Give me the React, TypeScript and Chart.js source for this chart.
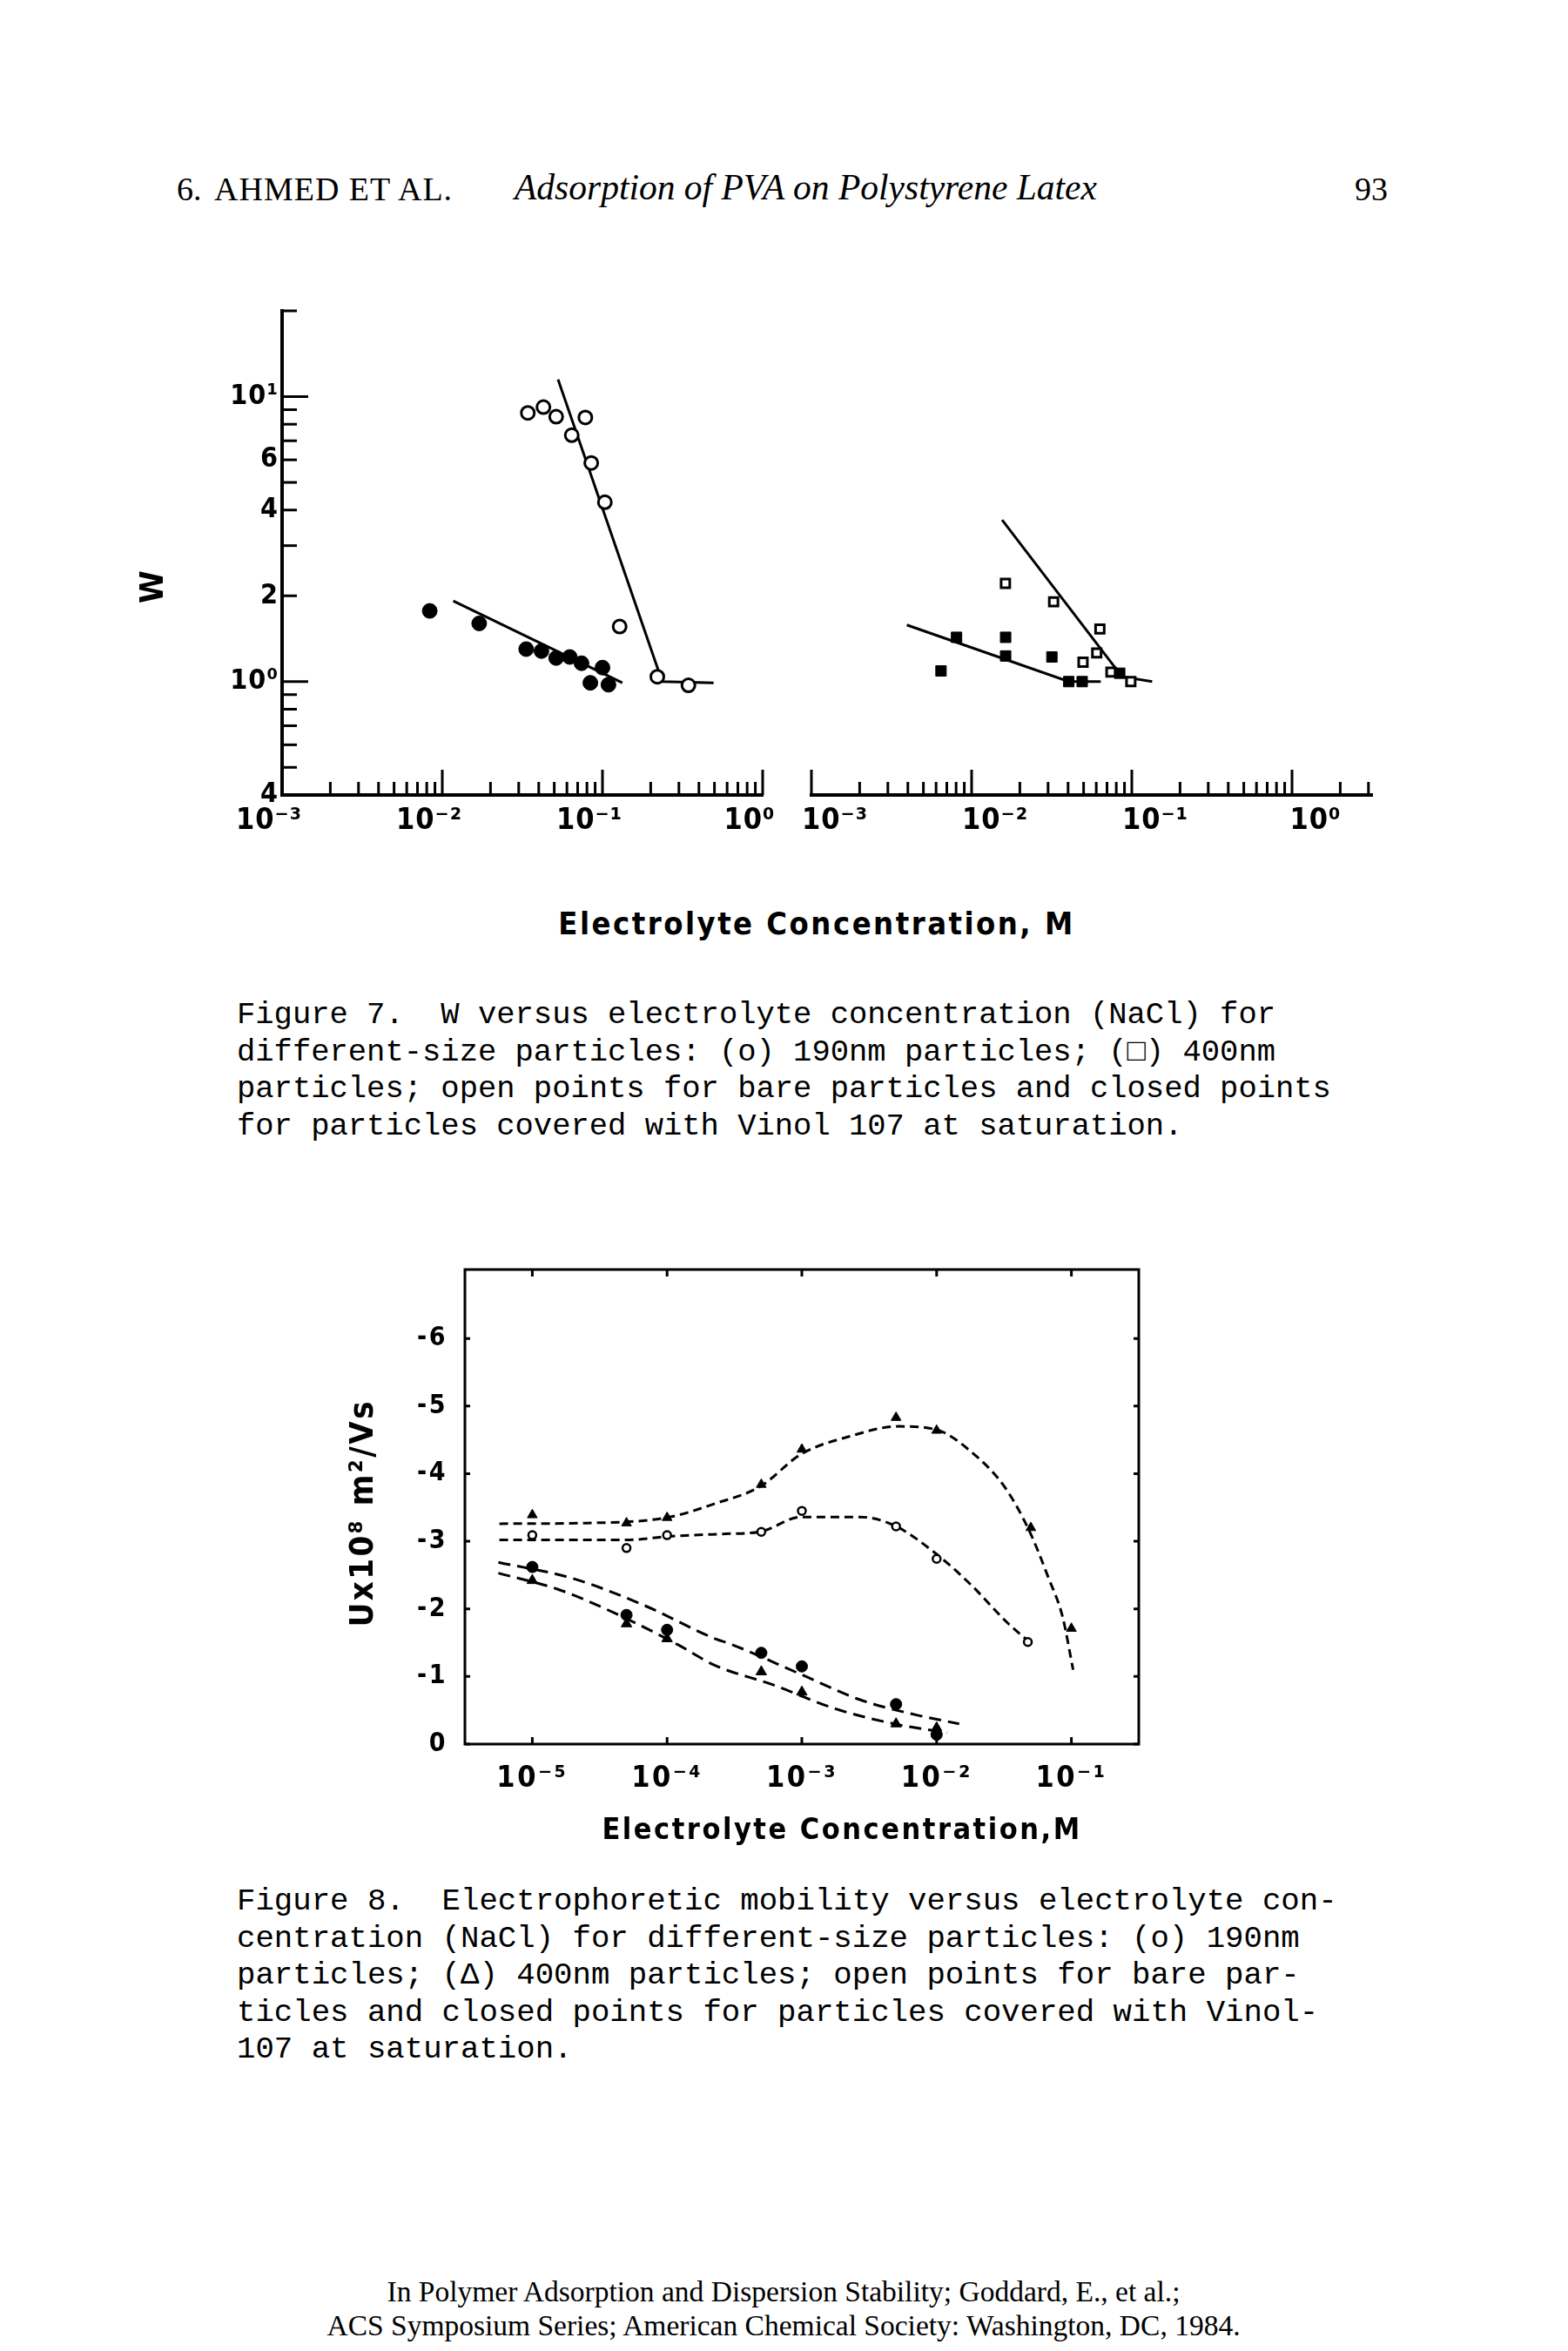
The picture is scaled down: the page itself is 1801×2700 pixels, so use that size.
import React, { useEffect, useRef } from 'react';
import { Chart, registerables } from 'chart.js';

Chart.register(...registerables);

const COND = "'DejaVu Sans Condensed', 'Liberation Sans Narrow', 'DejaVu Sans', sans-serif";

// ---------------- Figure 7 : W versus electrolyte concentration ----------------
// left panel: 190 nm particles
const f7LeftClosedC = [0.00835, 0.017, 0.0334, 0.0416, 0.0514, 0.0625, 0.074, 0.1, 0.084, 0.109];
const f7LeftClosedW = [1.77, 1.6, 1.3, 1.28, 1.21, 1.22, 1.16, 1.12, 0.99, 0.975];
const f7LeftOpenC = [0.0342, 0.0428, 0.0514, 0.0782, 0.0643, 0.0851, 0.1035, 0.128, 0.22, 0.344];
const f7LeftOpenW = [8.77, 9.19, 8.5, 8.45, 7.32, 5.85, 4.26, 1.56, 1.04, 0.97];
const f7LeftClosedFitC = [0.0117, 0.133];
const f7LeftClosedFitW = [1.92, 0.99];
const f7LeftOpenFitC = [0.0528, 0.236, 0.494];
const f7LeftOpenFitW = [11.5, 1.0, 0.99];
// right panel: 400 nm particles
const f7RightOpenC = [0.01626, 0.0325, 0.0632, 0.0604, 0.0496, 0.0741, 0.0986];
const f7RightOpenW = [2.21, 1.905, 1.53, 1.26, 1.17, 1.08, 1.0];
const f7RightClosedC = [0.00644, 0.00805, 0.0163, 0.0163, 0.0317, 0.0404, 0.049, 0.084];
const f7RightClosedW = [1.09, 1.43, 1.43, 1.23, 1.22, 1.0, 1.0, 1.07];
const f7RightClosedFitC = [0.00394, 0.0404, 0.064];
const f7RightClosedFitW = [1.58, 1.0, 1.0];
const f7RightOpenFitC = [0.0155, 0.0869, 0.134];
const f7RightOpenFitW = [3.69, 1.04, 1.0];

// figure 7 axes
const f7Decades = [1e-3, 1e-2, 1e-1];
const f7Mantissas = [1, 2, 3, 4, 5, 6, 7, 8, 9];
const f7LeftXTicks = [...f7Decades.flatMap((d) => f7Mantissas.map((m) => +(m * d).toPrecision(3))), 1];
const f7RightXTicks = [...f7LeftXTicks, 2, 3];
const f7XTickValues = [1e-3, 1e-2, 1e-1, 1];
const f7XTickLabels = ['10⁻³', '10⁻²', '10⁻¹', '10⁰'];
const f7YTicks = [0.4, 0.5, 0.6, 0.7, 0.8, 0.9, 1, 2, 3, 4, 5, 6, 7, 8, 9, 10, 20];
const f7YTickValues = [0.4, 1, 2, 4, 6, 10];
const f7YTickLabels = ['4', '10⁰', '2', '4', '6', '10¹'];

// ---------------- Figure 8 : electrophoretic mobility ----------------
const f8BareTriC = [1e-5, 5e-5, 1e-4, 5e-4, 1e-3, 5e-3, 1e-2, 5e-2, 1e-1];
const f8BareTriU = [-3.39, -3.27, -3.35, -3.84, -4.36, -4.83, -4.64, -3.2, -1.71];
const f8BareCircC = [1e-5, 5e-5, 1e-4, 5e-4, 1e-3, 5e-3, 1e-2, 4.75e-2];
const f8BareCircU = [-3.09, -2.9, -3.09, -3.14, -3.45, -3.22, -2.74, -1.51];
const f8CovCircC = [1e-5, 5e-5, 1e-4, 5e-4, 1e-3, 5e-3, 1e-2];
const f8CovCircU = [-2.62, -1.91, -1.69, -1.35, -1.15, -0.59, -0.14];
const f8CovTriC = [1e-5, 5e-5, 1e-4, 5e-4, 1e-3, 5e-3, 1e-2];
const f8CovTriU = [-2.42, -1.78, -1.56, -1.07, -0.77, -0.3, -0.24];

const f8BareTriCurveC = [5.7e-6, 2.5e-5, 9.9e-5, 2.29e-4, 4.9e-4, 9.9e-4, 2.24e-3, 5.2e-3, 1e-2, 1.79e-2, 3.18e-2, 4.83e-2, 6.79e-2, 8.61e-2, 0.103];
const f8BareTriCurveU = [-3.26, -3.27, -3.35, -3.56, -3.81, -4.29, -4.55, -4.7, -4.65, -4.33, -3.81, -3.17, -2.45, -1.88, -1.1];
const f8BareCircCurveC = [5.7e-6, 5e-5, 1e-4, 2.7e-4, 4.9e-4, 9.9e-4, 2.7e-3, 4.9e-3, 9.7e-3, 1.79e-2, 3.33e-2, 4.62e-2];
const f8BareCircCurveU = [-3.02, -3.02, -3.07, -3.11, -3.14, -3.36, -3.36, -3.23, -2.83, -2.36, -1.8, -1.55];
const f8CovCircCurveC = [5.6e-6, 2.0e-5, 6.8e-5, 2.33e-4, 2.87e-4, 9.9e-4, 2.67e-3, 7.1e-3, 1.47e-2];
const f8CovCircCurveU = [-2.69, -2.45, -2.05, -1.55, -1.49, -1.03, -0.66, -0.43, -0.3];
const f8CovTriCurveC = [5.6e-6, 1.55e-5, 4.17e-5, 1.23e-4, 2.23e-4, 6.04e-4, 1.79e-3, 4.83e-3, 1.2e-2];
const f8CovTriCurveU = [-2.53, -2.29, -1.93, -1.46, -1.17, -0.88, -0.52, -0.3, -0.17];

const f8XTicks = [1e-5, 1e-4, 1e-3, 1e-2, 1e-1];
const f8XTickLabels = ['10⁻⁵', '10⁻⁴', '10⁻³', '10⁻²', '10⁻¹'];
const f8YTicks = [-6, -5, -4, -3, -2, -1, 0];
const f8YTickLabels = ['-6', '-5', '-4', '-3', '-2', '-1', '0'];

// ---------------- texts ----------------
const fig7Caption = [
  'Figure 7.  W versus electrolyte concentration (NaCl) for',
  'different-size particles: (o) 190nm particles; (□) 400nm',
  'particles; open points for bare particles and closed points',
  'for particles covered with Vinol 107 at saturation.',
];
const fig8Caption = [
  'Figure 8.  Electrophoretic mobility versus electrolyte con-',
  'centration (NaCl) for different-size particles: (o) 190nm',
  'particles; (Δ) 400nm particles; open points for bare par-',
  'ticles and closed points for particles covered with Vinol-',
  '107 at saturation.',
];
const footer = [
  'In Polymer Adsorption and Dispersion Stability; Goddard, E., et al.;',
  'ACS Symposium Series; American Chemical Society: Washington, DC, 1984.',
];

// ---------------- helpers ----------------
const pts = (xs: number[], ys: number[]) => xs.map((x, i) => ({ x, y: ys[i] }));
const near = (a: number, b: number) => Math.abs(a - b) <= Math.abs(b) * 1e-6 + 1e-12;
const labelFrom = (values: number[], labels: string[]) => (v: any) => {
  const i = values.findIndex((t) => near(Number(v), t));
  return i >= 0 ? labels[i] : '';
};

const inwardTicks = {
  id: 'inwardTicks',
  beforeDraw(chart: any, _args: any, opts: any) {
    (chart.ctx as any).letterSpacing = (opts.letterSpacing || 0) + 'px';
  },
  afterDatasetsDraw(chart: any, _args: any, opts: any) {
    const { ctx, chartArea: a } = chart;
    ctx.save();
    ctx.strokeStyle = '#000';
    ctx.lineWidth = opts.lineWidth || 3;
    (['x', 'y'] as const).forEach((id) => {
      const scale = chart.scales[id];
      const o = opts[id];
      if (!scale || !o) return;
      scale.ticks.forEach((t: any) => {
        const v = t.value;
        const major = o.majorValues
          ? o.majorValues.some((m: number) => near(v, m))
          : Math.abs(Math.log10(v) - Math.round(Math.log10(v))) < 1e-6;
        const len = major ? o.major : o.minor;
        const p = scale.getPixelForValue(v);
        ctx.beginPath();
        o.sides.forEach((s: string) => {
          if (s === 'bottom') { ctx.moveTo(p, a.bottom); ctx.lineTo(p, a.bottom - len); }
          if (s === 'top') { ctx.moveTo(p, a.top); ctx.lineTo(p, a.top + len); }
          if (s === 'left') { ctx.moveTo(a.left, p); ctx.lineTo(a.left + len, p); }
          if (s === 'right') { ctx.moveTo(a.right, p); ctx.lineTo(a.right - len, p); }
        });
        ctx.stroke();
      });
    });
    if (opts.frame) {
      ctx.lineWidth = opts.frame;
      ctx.strokeRect(a.left, a.top, a.right - a.left, a.bottom - a.top);
    }
    ctx.restore();
  },
  afterDraw(chart: any) {
    (chart.ctx as any).letterSpacing = '0px';
  },
};

const markers = (data: any, style: string, r: number, filled: boolean, bw = 3) => ({
  data,
  pointStyle: style,
  pointRadius: r,
  backgroundColor: filled ? '#000' : '#fff',
  borderColor: '#000',
  borderWidth: filled ? 1 : bw,
  showLine: false,
  order: 1,
});
const line = (data: any, dash: number[] = [], curved = false) => ({
  data,
  showLine: true,
  pointRadius: 0,
  borderColor: '#000',
  borderWidth: 3,
  borderDash: dash,
  fill: false,
  cubicInterpolationMode: curved ? 'monotone' : 'default',
  tension: 0,
  order: 2,
});

const baseOpts = {
  responsive: false,
  animation: false,
  devicePixelRatio: 1,
  events: [],
};

const f7XScale = (ticks: number[], max: number, labelOffset: number) => ({
  type: 'logarithmic',
  min: 1e-3,
  max,
  afterBuildTicks: (s: any) => { s.ticks = ticks.map((v) => ({ value: v })); },
  afterFit: (s: any) => { s.height = 90; },
  grid: { display: false, drawTicks: false },
  border: { display: true, width: 4, color: '#000' },
  ticks: {
    autoSkip: false, maxRotation: 0, minRotation: 0, padding: 10, labelOffset, color: '#000',
    font: { family: COND, size: 34, weight: 'bold' },
    callback: labelFrom(f7XTickValues, f7XTickLabels),
  },
});

const f7LeftConfig = () => ({
  type: 'scatter',
  data: {
    datasets: [
      markers(pts(f7LeftClosedC, f7LeftClosedW), 'circle', 8.5, true),
      markers(pts(f7LeftOpenC, f7LeftOpenW), 'circle', 7.5, false),
      line(pts(f7LeftClosedFitC, f7LeftClosedFitW)),
      line(pts(f7LeftOpenFitC, f7LeftOpenFitW)),
    ],
  },
  options: {
    ...baseOpts,
    layout: { padding: { left: 0, top: 27, right: 44, bottom: 0 } },
    plugins: {
      legend: { display: false },
      tooltip: { enabled: false },
      inwardTicks: {
        lineWidth: 3,
        letterSpacing: 1,
        x: { major: 29, minor: 15, sides: ['bottom'] },
        y: { major: 30, minor: 17, sides: ['left'], majorValues: [1, 10] },
      },
    },
    scales: {
      x: f7XScale(f7LeftXTicks, 1, -15),
      y: {
        type: 'logarithmic',
        min: 0.4,
        max: 20,
        afterBuildTicks: (s: any) => { s.ticks = f7YTicks.map((v) => ({ value: v })); },
        afterFit: (s: any) => { s.width = 174; },
        grid: { display: false, drawTicks: false },
        border: { display: true, width: 4, color: '#000' },
        title: { display: true, text: 'W      ', color: '#000', font: { family: COND, size: 38, weight: 'bold' }, padding: 4 },
        ticks: {
          autoSkip: false, padding: 4, color: '#000',
          font: { family: COND, size: 32, weight: 'bold' },
          callback: labelFrom(f7YTickValues, f7YTickLabels),
        },
      },
    },
  },
  plugins: [inwardTicks],
});

const f7RightConfig = () => ({
  type: 'scatter',
  data: {
    datasets: [
      markers(pts(f7RightClosedC, f7RightClosedW), 'rect', 8.5, true),
      markers(pts(f7RightOpenC, f7RightOpenW), 'rect', 7, false),
      line(pts(f7RightClosedFitC, f7RightClosedFitW)),
      line(pts(f7RightOpenFitC, f7RightOpenFitW)),
    ],
  },
  options: {
    ...baseOpts,
    layout: { padding: { left: 62, top: 27, right: 64, bottom: 0 } },
    plugins: {
      legend: { display: false },
      tooltip: { enabled: false },
      inwardTicks: { lineWidth: 3, letterSpacing: 1, x: { major: 29, minor: 15, sides: ['bottom'] } },
    },
    scales: {
      x: f7XScale(f7RightXTicks, 3.162, 27),
      y: { type: 'logarithmic', min: 0.4, max: 20, display: false },
    },
  },
  plugins: [inwardTicks],
});

const f8Config = () => ({
  type: 'scatter',
  data: {
    datasets: [
      markers(pts(f8BareTriC, f8BareTriU), 'triangle', 6.5, true),
      markers(pts(f8BareCircC, f8BareCircU), 'circle', 4.5, false, 2.5),
      markers(pts(f8CovCircC, f8CovCircU), 'circle', 6.5, true),
      markers(pts(f8CovTriC, f8CovTriU), 'triangle', 7, true),
      line(pts(f8BareTriCurveC, f8BareTriCurveU), [10, 6], true),
      line(pts(f8BareCircCurveC, f8BareCircCurveU), [10, 6], true),
      line(pts(f8CovCircCurveC, f8CovCircCurveU), [14, 8], true),
      line(pts(f8CovTriCurveC, f8CovTriCurveU), [14, 8], true),
    ],
  },
  options: {
    ...baseOpts,
    layout: { padding: { left: 0, top: 58, right: 84, bottom: 0 } },
    plugins: {
      legend: { display: false },
      tooltip: { enabled: false },
      inwardTicks: {
        lineWidth: 3,
        frame: 3,
        letterSpacing: 2.5,
        x: { major: 8, minor: 8, sides: ['bottom', 'top'] },
        y: { major: 6, minor: 6, sides: ['left', 'right'], majorValues: f8YTicks },
      },
    },
    scales: {
      x: {
        type: 'logarithmic',
        min: 3.162e-6,
        max: 0.3162,
        afterBuildTicks: (s: any) => { s.ticks = f8XTicks.map((v) => ({ value: v })); },
        afterFit: (s: any) => { s.height = 125; },
        grid: { display: false, drawTicks: false },
        border: { display: false },
        title: { display: true, text: '       Electrolyte Concentration,M', color: '#000', font: { family: COND, size: 34, weight: 'bold' }, padding: { top: 4, bottom: 4 } },
        ticks: {
          autoSkip: false, maxRotation: 0, minRotation: 0, padding: 20, color: '#000',
          font: { family: COND, size: 34, weight: 'bold' },
          callback: labelFrom(f8XTicks, f8XTickLabels),
        },
      },
      y: {
        type: 'linear',
        min: -7.02,
        max: 0,
        reverse: true,
        afterBuildTicks: (s: any) => { s.ticks = f8YTicks.map((v) => ({ value: v })); },
        afterFit: (s: any) => { s.width = 142; },
        grid: { display: false, drawTicks: false },
        border: { display: false },
        title: { display: true, text: 'Ux10⁸ m²/Vs ', color: '#000', font: { family: COND, size: 38, weight: 'bold' }, padding: 3 },
        ticks: {
          autoSkip: false, padding: 20, color: '#000',
          font: { family: COND, size: 30, weight: 'bold' },
          callback: labelFrom(f8YTicks, f8YTickLabels),
        },
      },
    },
  },
  plugins: [inwardTicks],
});

function ChartBox({ left, top, width, height, make }: any) {
  const ref = useRef<HTMLCanvasElement>(null);
  useEffect(() => {
    const chart = new Chart(ref.current as HTMLCanvasElement, make() as any);
    return () => chart.destroy();
  }, []);
  return (
    <canvas
      ref={ref}
      width={width}
      height={height}
      style={{ position: 'absolute', left, top, width, height }}
    />
  );
}

const T = (s: any) => ({ position: 'absolute', margin: 0, whiteSpace: 'pre', color: '#000', ...s });
const SERIF = "'Liberation Serif', 'Times New Roman', serif";
const MONO = "'Liberation Mono', 'DejaVu Sans Mono', monospace";

export default function App() {
  return (
    <div style={{ position: 'absolute', left: 0, top: 0, width: 1801, height: 2700, background: '#fff', overflow: 'hidden' }}>
      {/* running header */}
      <div style={T({ left: 203, top: 194, font: `38px ${SERIF}`, lineHeight: '46px' })}>6.</div>
      <div style={T({ left: 246, top: 194, font: `38px ${SERIF}`, letterSpacing: '1px', lineHeight: '46px' })}>AHMED ET AL.</div>
      <div style={T({ left: 591, top: 192, font: `italic 41.5px ${SERIF}`, lineHeight: '46px' })}>Adsorption of PVA on Polystyrene Latex</div>
      <div style={T({ left: 1556, top: 194, font: `38px ${SERIF}`, lineHeight: '46px' })}>93</div>

      {/* Figure 7 */}
      <ChartBox left={150} top={330} width={770} height={673} make={f7LeftConfig} />
      <ChartBox left={870} top={330} width={770} height={673} make={f7RightConfig} />
      <div style={T({ left: 538, top: 1038, width: 800, textAlign: 'center', font: `bold 36px ${COND}`, letterSpacing: '2.5px', lineHeight: '46px' })}>
        Electrolyte Concentration, M
      </div>
      <div style={T({ left: 272, top: 1145, font: `35.5px ${MONO}`, lineHeight: '42.5px' })}>{fig7Caption.join('\n')}</div>

      {/* Figure 8 */}
      <ChartBox left={392} top={1400} width={1000} height={728} make={f8Config} />
      <div style={T({ left: 272, top: 2163, font: `35.7px ${MONO}`, lineHeight: '42.5px' })}>{fig8Caption.join('\n')}</div>

      {/* footer */}
      <div style={T({ left: 200, top: 2612, width: 1400, textAlign: 'center', font: `33.5px ${SERIF}`, lineHeight: '39px' })}>
        {footer.join('\n')}
      </div>
    </div>
  );
}
